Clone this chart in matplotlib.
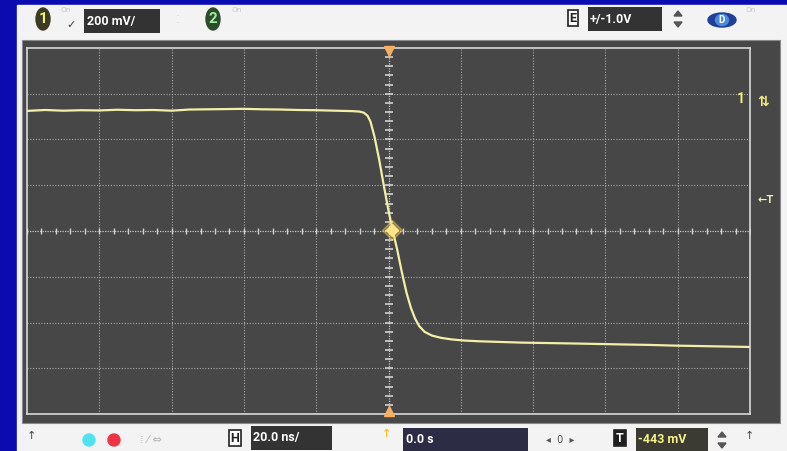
import matplotlib.pyplot as plt
import numpy as np
from matplotlib.patches import Rectangle, Ellipse, Polygon

# scope settings
TIME_PER_DIV = 20.0        # ns/div
VOLT_PER_DIV = 200.0       # mV/div
CENTER_MV = -579.0         # voltage at screen centre
TRIGGER_MV = -443.0

# channel 1 trace (time in ns, voltage in mV)
time_ns = [
    -100, -95, -90, -85, -80, -75, -70, -65, -60, -55, -50, -45, -40,
    -35, -30, -25, -20, -15, -10, -8.0, -6.8, -5.8, -5.0, -3.9, -2.6, -1.3,
    0.0, 1.2, 2.4, 3.7, 5.0, 6.2, 7.3, 8.5, 10.0, 12.0, 14.5, 17.5, 21.0,
    25, 30.8, 37, 44.7, 52, 58.5, 65, 72.3, 79, 86.2, 93, 100,
]
volt_mv = [
    -54, -50, -53, -51, -52, -49, -51, -50, -53, -48, -47, -46, -45,
    -47, -48, -50, -51, -53, -55, -57, -62, -75, -100, -165, -265, -380,
    -490, -579, -660, -760, -850, -915, -960, -995, -1020, -1036, -1046, -1053, -1058,
    -1061, -1064, -1067, -1069, -1071, -1073, -1075, -1077, -1080, -1082, -1084, -1086,
]

W, H = 787, 451
BLUE = "#0a0cb0"
PANEL = "#f3f3f3"
SCREEN = "#474747"
GRID = "#a9a9a9"
TRACE = "#f3efa6"
FONT = ["Roboto", "DejaVu Sans"]


def fx(x):
    return x / W


def fy(y):
    return 1 - y / H


fig = plt.figure(figsize=(W / 100, H / 100), dpi=100)
fig.patch.set_facecolor(BLUE)

# background layer in pixel coordinates
bg = fig.add_axes([0, 0, 1, 1], zorder=0)
bg.set_xlim(0, W)
bg.set_ylim(H, 0)
bg.axis("off")
bg.add_patch(Rectangle((17, 5), W - 17, H - 5, color=PANEL))
bg.add_patch(Rectangle((22, 40), 758, 383, facecolor=SCREEN, edgecolor="#8a8a8a", lw=0.8))

# scope graticule
left, top, right, bottom = 27, 48, 750, 414
ax = fig.add_axes([fx(left), fy(bottom), fx(right - left), (bottom - top) / H], zorder=1)
ax.set_facecolor(SCREEN)
ax.set_xlim(-5 * TIME_PER_DIV, 5 * TIME_PER_DIV)
ax.set_ylim(CENTER_MV - 4 * VOLT_PER_DIV, CENTER_MV + 4 * VOLT_PER_DIV)
ax.set_xticks([])
ax.set_yticks([])
for s in ax.spines.values():
    s.set_color("#d8d8d8")
    s.set_linewidth(1.2)

for i in range(-4, 5):
    if i != 0:
        ax.axvline(i * TIME_PER_DIV, color=GRID, lw=0.8, ls=(0, (1, 1.5)))
for j in range(-3, 4):
    if j != 0:
        ax.axhline(CENTER_MV + j * VOLT_PER_DIV, color=GRID, lw=0.8, ls=(0, (1, 1.5)))

# centre axes with minor ticks
ax.axhline(CENTER_MV, color="#c8c8c8", lw=0.9, ls=(0, (1, 1)))
ax.axvline(0, color="#c8c8c8", lw=0.9, ls=(0, (1, 1)))
xt = np.arange(-100, 101, 4)
ax.plot(xt, np.full_like(xt, CENTER_MV, dtype=float), ls="none", marker="|",
        ms=5, mew=1.0, color="#d0d0d0")
yt = np.arange(CENTER_MV - 800, CENTER_MV + 801, 40)
ax.plot(np.zeros_like(yt), yt, ls="none", marker="_", ms=6, mew=1.2, color="#d0d0d0")

ax.plot(time_ns, volt_mv, color=TRACE, lw=1.6, zorder=5, solid_joinstyle="round")

# trigger point diamond and trigger markers
ax.plot([1.0], [CENTER_MV + 5], marker="D", ms=10, color="#ffd35a", alpha=0.4, zorder=6)
ax.plot([1.0], [CENTER_MV + 5], marker="D", ms=6, color="#ffe58a", zorder=7)
ax.plot([0], [CENTER_MV + 4 * VOLT_PER_DIV - 12], marker="v", ms=7, color="#f7b060",
        clip_on=False, zorder=6)
ax.plot([0], [CENTER_MV - 4 * VOLT_PER_DIV + 12], marker="^", ms=7, color="#f7b060",
        clip_on=False, zorder=6)

# foreground layer for labels
fg = fig.add_axes([0, 0, 1, 1], zorder=3)
fg.set_xlim(0, W)
fg.set_ylim(H, 0)
fg.axis("off")
fg.patch.set_alpha(0)

ground_y = 231 - (0 - CENTER_MV) / VOLT_PER_DIV * 45.75
trig_y = 231 - (TRIGGER_MV - CENTER_MV) / VOLT_PER_DIV * 45.75
fg.text(741, ground_y, "1", color="#f0ee80", fontsize=10, fontweight="bold",
        ha="center", va="center", family=FONT)
fg.text(763, ground_y + 3, "⇅", color="#f0ee80", fontsize=10, fontweight="bold",
        ha="center", va="center")
fg.text(766, trig_y, "←T", color="#f4f0b0", fontsize=8, fontweight="bold",
        ha="center", va="center", family=FONT)


def box(x0, y0, x1, y1, text, fc="#333333", tc="white", tx=None, fs=9):
    fg.add_patch(Rectangle((x0, y0), x1 - x0, y1 - y0, facecolor=fc, edgecolor="none"))
    fg.text(x0 + 3 if tx is None else tx, (y0 + y1) / 2, text, color=tc, fontsize=fs,
            fontweight="bold", ha="left", va="center", family=FONT)


def letter_box(x, y, ch, fc="white", tc="#222222"):
    fg.text(x, y, ch, color=tc, fontsize=9, fontweight="bold", ha="center", va="center",
            family=FONT, bbox=dict(boxstyle="square,pad=0.15", fc=fc, ec="#222222", lw=1.2))


def updown(x, y):
    fg.add_patch(Polygon([[x - 4, y - 3], [x + 4, y - 3], [x, y - 8]], color="#555555"))
    fg.add_patch(Polygon([[x - 4, y + 3], [x + 4, y + 3], [x, y + 8]], color="#555555"))


# top bar
fg.add_patch(Ellipse((43, 19), 14, 22, color="#3b3b25"))
fg.text(43, 19, "1", color="#f0ef70", fontsize=11, fontweight="bold", ha="center", va="center",
        family=FONT)
fg.text(66, 10, "On", color="#c8c8c8", fontsize=6, ha="center", va="center", family=FONT)
fg.text(71, 25, "✓", color="#444444", fontsize=8, ha="center", va="center")
box(84, 9, 160, 33, "200 mV/", tx=87)
fg.text(178, 20, "⁚", color="#c8c8c8", fontsize=8, ha="center", va="center")
fg.add_patch(Ellipse((213, 19), 14, 22, color="#2d4a2d"))
fg.text(213, 19, "2", color="#9ff09a", fontsize=11, fontweight="bold", ha="center", va="center",
        family=FONT)
fg.text(237, 10, "On", color="#c8c8c8", fontsize=6, ha="center", va="center", family=FONT)

letter_box(573, 18, "E")
box(588, 7, 662, 31, "+/-1.0V", tx=590)
updown(678, 19)
fg.add_patch(Ellipse((722, 20), 28, 14, color="#1f3f9a"))
fg.add_patch(Ellipse((722, 20), 13, 11, color="#4a8ae0"))
fg.text(722, 20, "D", color="white", fontsize=7, fontweight="bold", ha="center", va="center",
        family=FONT)
fg.text(751, 10, "On", color="#c8c8c8", fontsize=6, ha="center", va="center", family=FONT)

# bottom bar
fg.text(31, 436, "↑", color="#444444", fontsize=8, ha="center", va="center")
fg.add_patch(Ellipse((89, 440), 12, 12, color="#4fe3f2"))
fg.add_patch(Ellipse((114, 440), 12, 12, color="#ee3344"))
fg.text(140, 440, "⁞ ⁄ ⇔", color="#b5b5b5", fontsize=8, ha="left", va="center")
letter_box(235, 438, "H")
box(251, 426, 332, 450, "20.0 ns/", tx=253)
fg.text(387, 434, "↑", color="#f2c030", fontsize=8, fontweight="bold", ha="center", va="center")
box(403, 428, 528, 451, "0.0 s", fc="#2c2c44", tx=406)
fg.text(560, 440, "◂  0  ▸", color="#555555", fontsize=7, ha="center", va="center")
letter_box(620, 438, "T", fc="#1e1e1e", tc="white")
box(636, 428, 708, 451, "-443 mV", fc="#3b3b33", tc="#f2f08a", tx=638)
updown(722, 440)
fg.text(749, 436, "↑", color="#444444", fontsize=8, ha="center", va="center")

fig.savefig("out.png", dpi=100, facecolor=fig.get_facecolor())
